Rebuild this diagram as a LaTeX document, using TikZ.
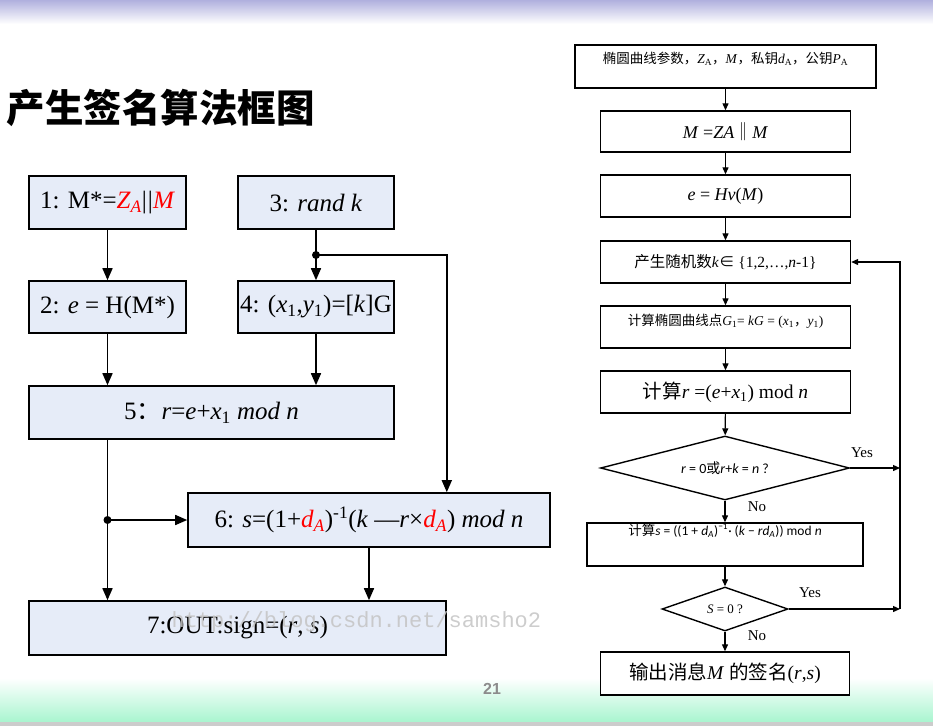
\documentclass[tikz,border=0pt]{standalone}
\usepackage{fontspec}
\setmainfont{Liberation Serif}
\newfontfamily\cjk{Noto Sans CJK SC}
\newfontfamily\carl{Carlito}
\newfontfamily\lsans{Liberation Sans}
\newfontfamily\lmono{Liberation Mono}
\usetikzlibrary{arrows.meta,shapes.geometric}
\definecolor{boxfill}{HTML}{E6ECF8}
\definecolor{topband}{HTML}{B0B0DE}
\definecolor{botband}{HTML}{A8F5CF}
\definecolor{wmark}{HTML}{C4C4C4}
\newcommand{\fs}[1]{\fontsize{#1}{#1}\selectfont}
\newcommand{\ti}[1]{\textit{#1}}
\begin{document}
\begin{tikzpicture}[x=1pt,y=-1pt,
  lbox/.style={draw=black,line width=1.6pt,fill=boxfill,inner sep=0pt,font=\fs{25}},
  rbox/.style={draw=black,line width=1.4pt,fill=white,inner sep=0pt},
  larr/.style={line width=1.6pt,-{Triangle[length=12pt,width=10pt]}},
  lline/.style={line width=1.6pt},
  rarr/.style={line width=1.2pt,-{Triangle[length=7pt,width=6pt]}},
  rline/.style={line width=1.2pt},
  yn/.style={font=\fs{15}},
]
\useasboundingbox (0,0) rectangle (933,726);
% bands
\shade[top color=topband,bottom color=white] (0,0) rectangle (933,24);
\shade[top color=white,bottom color=botband] (0,678) rectangle (933,722);
\fill[gray!40] (0,722) rectangle (933,726);
% title
\node[anchor=west,font=\cjk\bfseries\fs{38.5}] (title) at (3,108) {产生签名算法框图};
% left chart
\node[lbox,minimum width=157,minimum height=53] (b1) at (107.5,202.5)
  {1: M*=\textcolor{red}{\ti{Z}\textsubscript{\ti{A}}}|\kern1pt|\textcolor{red}{\ti{M}}};
\node[lbox,minimum width=156,minimum height=53] (b3) at (316,202.5) {3: \ti{rand k}};
\node[lbox,minimum width=157,minimum height=52] (b2) at (107.5,307) {2: \ti{e} = H(M*)};
\node[lbox,minimum width=156,minimum height=52] (b4) at (316,307)
  {4: (\ti{x}\textsubscript{1},\ti{y}\textsubscript{1})=[\ti{k}]G};
\node[lbox,minimum width=365,minimum height=53] (b5) at (211.5,412.5)
  {5{\cjk ：}\ti{r}=\ti{e}+\ti{x}\textsubscript{1} \ti{mod n}};
\node[lbox,minimum width=362,minimum height=54] (b6) at (369,520)
  {6: \ti{s}=(1+\textcolor{red}{\ti{d}\textsubscript{\ti{A}}})\textsuperscript{-1}(\ti{k} —\ti{r}×\textcolor{red}{\ti{d}\textsubscript{\ti{A}}}) \ti{mod n}};
\node[lbox,minimum width=417,minimum height=54] (b7) at (237.5,628) {7:OUT:sign=(\ti{r}, \ti{s})};
\coordinate (j1) at (316,255);
\coordinate (c6) at (b7.east |- b6.north);
\coordinate (j2) at (b2 |- b6.west);
\draw[larr] (b1) -- (b2);
\draw[larr] (b3) -- (b4);
\draw[larr] (j1) -| (c6);
\fill (j1) circle (4);
\draw[larr] (b2) -- (b2 |- b5.north);
\draw[larr] (b4) -- (b4 |- b5.north);
\draw[lline] (b2 |- b5.south) -- (j2);
\draw[larr] (j2) -- (b2 |- b7.north);
\draw[larr] (j2) -- (b6.west);
\fill (j2) circle (4);
\draw[larr] (b6) -- (b6 |- b7.north);
% right chart
\node[rbox,minimum width=301,minimum height=43,text height=10pt,text depth=17pt,font=\fs{13.5}] (r1) at (725.5,66.5)
  {{\cjk 椭圆曲线参数，}\ti{Z}\textsubscript{A}{\cjk ，}\ti{M}{\cjk ，私钥}\ti{d}\textsubscript{A}{\cjk ，公钥}\ti{P}\textsubscript{A}};
\node[rbox,minimum width=250,minimum height=41,font=\fs{18}] (r2) at (725.5,131.5)
  {\ti{M} =\ti{ZA}{\cjk ‖}\ti{M}};
\node[rbox,minimum width=250,minimum height=42,font=\fs{18}] (r3) at (725.5,196)
  {\ti{e} = \ti{Hv}(\ti{M})};
\node[rbox,minimum width=250,minimum height=42,font=\fs{15.5}] (r4) at (725.5,262)
  {{\cjk 产生随机数}\ti{k}{\cjk ∈} \{1,2,…,\ti{n}-1\}};
\node[rbox,minimum width=250,minimum height=42,text height=9pt,text depth=13pt,font=\fs{13.5}] (r5) at (725.5,327)
  {{\cjk 计算椭圆曲线点}\ti{G}\textsubscript{1}= \ti{kG} = (\ti{x}\textsubscript{1}{\cjk ，}\ti{y}\textsubscript{1})};
\node[rbox,minimum width=250,minimum height=42,font=\fs{19.5}] (r6) at (725.5,392)
  {{\cjk 计算}\ti{r} =(\ti{e}+\ti{x}\textsubscript{1}) mod \ti{n}};
\node[rbox,diamond,aspect=3.9,minimum width=249,minimum height=64,font=\carl\fs{14}] (d1) at (725,468)
  {\ti{r} = 0{\cjk 或}\ti{r}+\ti{k} = \ti{n} ?};
\node[rbox,minimum width=276,minimum height=43,text height=9pt,text depth=28pt,font=\carl\fs{13.5}] (r7) at (725,544.5)
  {{\cjk 计算}\ti{s} = ((1 + \ti{d}\textsubscript{\ti{A}})\textsuperscript{−1}· (\ti{k} − \ti{rd}\textsubscript{\ti{A}})) mod \ti{n}};
\node[rbox,diamond,aspect=2.9,minimum width=126,minimum height=44,font=\fs{13}] (d2) at (725,609)
  {\ti{S} = 0 ?};
\node[rbox,minimum width=249,minimum height=43,font=\fs{19.5}] (r8) at (725,673.5)
  {{\cjk 输出消息}\ti{M} {\cjk 的签名}(\ti{r},\ti{s})};
\coordinate (lp1) at (900,468);
\coordinate (lp2) at (900,609);
\coordinate (lt) at (r4.east -| lp1);
\draw[rarr] (r1) -- (r2);
\draw[rarr] (r2) -- (r3);
\draw[rarr] (r3) -- (r4);
\draw[rarr] (r4) -- (r5);
\draw[rarr] (r5) -- (r6);
\draw[rarr] (r6) -- (d1);
\draw[rarr] (d1) -- (r7);
\draw[rarr] (r7) -- (d2);
\draw[rarr] (d2) -- (r8);
\draw[rarr] (d1.east) -- (lp1);
\draw[rarr] (d2.east) -- (lp2);
\draw[rarr] (lp2) -- (lt) -- (r4.east);
\node[yn] (y1) at (862,453) {Yes};
\node[yn] (n1) at (757,507) {No};
\node[yn] (y2) at (810,593) {Yes};
\node[yn] (n2) at (757,636) {No};
% page number and watermark
\node[font=\lsans\bfseries\fs{16},text=gray!90] (pg) at (492,689) {21};
\node[anchor=west,font=\lmono\fs{22},text=wmark,opacity=0.85] (wm) at (168,622) {http://blog.csdn.net/samsho2};
\end{tikzpicture}
\end{document}
